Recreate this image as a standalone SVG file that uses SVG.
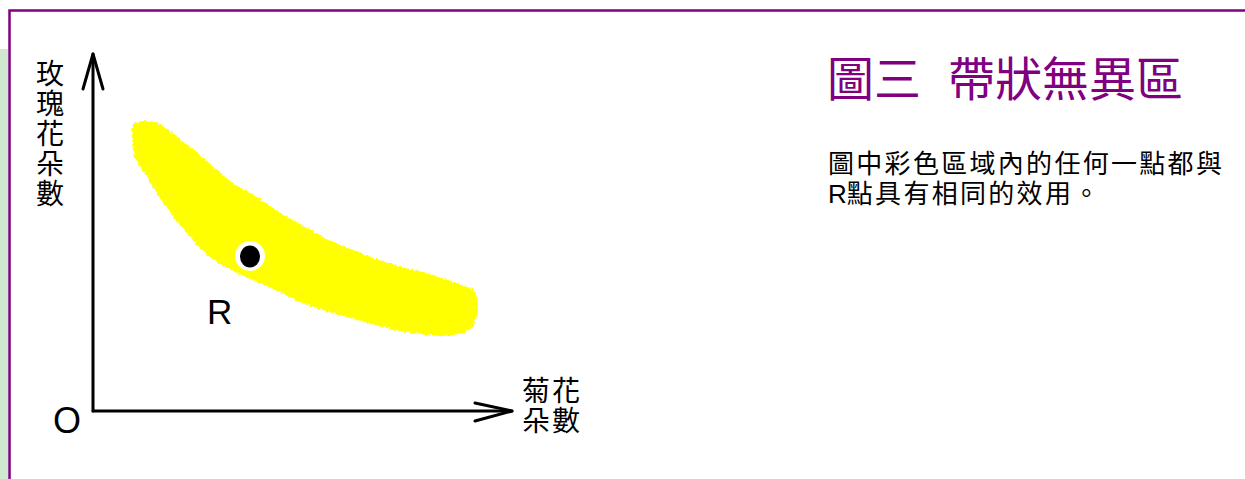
<svg xmlns="http://www.w3.org/2000/svg" width="1245" height="479" viewBox="0 0 1245 479">
  <style>
    .cjk { font-family: "Noto Sans CJK TC", "Noto Sans CJK SC", sans-serif; fill: #000; }
    .lat { font-family: "Liberation Sans", Arial, sans-serif; fill: #000; }
    .axis { stroke: #000; stroke-width: 3; fill: none; stroke-linecap: round; stroke-linejoin: round; }
  </style>
  <defs>
    <filter id="rough" x="-5%" y="-5%" width="110%" height="110%">
      <feTurbulence type="fractalNoise" baseFrequency="0.35" numOctaves="2" seed="3" result="n"/>
      <feDisplacementMap in="SourceGraphic" in2="n" scale="4" xChannelSelector="R" yChannelSelector="G"/>
    </filter>
  </defs>
  <rect x="0" y="0" width="1245" height="479" fill="#ffffff"/>
  <rect x="0" y="49" width="8" height="430" fill="#d0e7d0"/>
  <path d="M9.5 479 V10.5 H1245" fill="none" stroke="#800080" stroke-width="2.5"/>

  <g id="band">
    <path filter="url(#rough)" fill="#ffff00" d="M133 124 C140 120 150 121 156 122 C165 127 174 134 181 140 C192 148 200 155 208 162 C216 169 224 176 231 182 C240 188 248 191 255 196 C263 201 270 206 278 211 C288 217 298 223 308 228 C316 233 322 237 329 240 C338 244 347 248 356 251 C367 255 378 260 389 263 C400 267 412 269 423 272 C433 275 443 279 453 282 C460 284 465 286 470 288 C476 292 478 298 478 305 C478 312 477 317 475 322 C473 327 469 331 465 332 C456 335 449 336 440 336 C429 335 417 334 406 332 C395 330 383 327 372 324 C361 321 350 318 339 315 C328 312 316 308 305 304 C294 299 282 294 271 288 C263 285 256 282 248 278 C239 274 230 270 221 265 C212 259 204 252 197 245 C190 237 183 229 177 221 C171 213 165 206 160 198 C155 191 151 184 147 177 C142 170 138 164 135 157 C133 151 132 146 132 140 C132 134 131 128 133 124 Z"/>
  </g>

  <g id="pointR">
    <circle cx="250" cy="256" r="15" fill="#ffffff"/>
    <ellipse cx="250" cy="256.5" rx="10" ry="11" fill="#000000"/>
    <text class="lat" x="207" y="324" font-size="35">R</text>
  </g>

  <g id="connectors">
    <path class="axis" d="M93 411 V54"/>
    <path class="axis" d="M83 89 L93 54 L103 89"/>
    <path class="axis" d="M93 411 H512"/>
    <path class="axis" d="M475 403 L512 411 L475 421"/>
  </g>

  <g id="origin">
    <text class="lat" x="53" y="433" font-size="36">O</text>
  </g>

  <g id="yLabel">
    <text class="cjk" font-size="28" writing-mode="vertical-rl" letter-spacing="2" x="50" y="59">玫瑰花朵數</text>
  </g>

  <g id="xLabel">
    <text class="cjk" font-size="28" letter-spacing="2"><tspan x="522" y="401">菊花</tspan><tspan x="522" y="431">朵數</tspan></text>
  </g>

  <g id="title">
    <text font-family="Noto Sans CJK TC, Noto Sans CJK SC, sans-serif" font-size="47" fill="#800080" y="96"><tspan x="827">圖三</tspan><tspan x="948">帶狀無異區</tspan></text>
  </g>

  <g id="description">
    <text class="cjk" font-size="26" letter-spacing="2.3"><tspan x="828" y="173">圖中彩色區域內的任何一點都與</tspan><tspan x="828" y="203"><tspan font-family="Liberation Sans, sans-serif" letter-spacing="0">R</tspan>點具有相同的效用。</tspan></text>
  </g>
</svg>
